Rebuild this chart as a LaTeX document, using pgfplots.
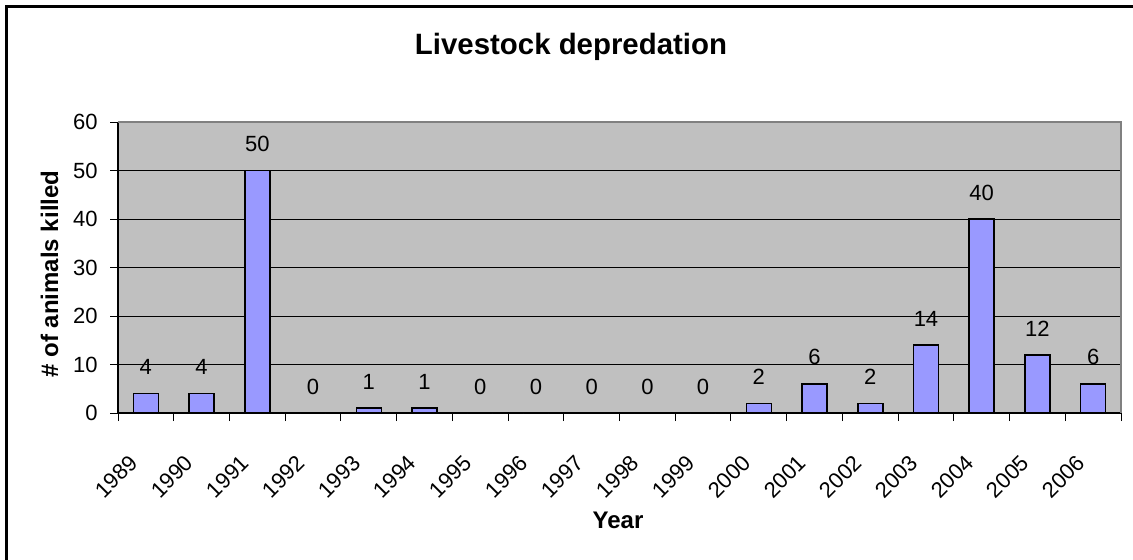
\documentclass[border=0pt]{standalone}
\usepackage{fontspec}
\setmainfont{Liberation Sans}
\usepackage{pgfplots}
\pgfplotsset{compat=1.18}
\definecolor{barblue}{HTML}{9999FF}
\definecolor{plotgray}{HTML}{C0C0C0}
\definecolor{bordergray}{HTML}{808080}
\begin{document}
\begin{tikzpicture}
\begin{axis}[
  at={(0,0)}, anchor=south west,
  scale only axis, width=501.5pt, height=145.5pt,
  xmin=-0.5, xmax=17.5, ymin=0, ymax=60,
  ytick={0,10,...,60},
  xtick={0,...,17},
  xticklabels={1989,1990,1991,1992,1993,1994,1995,1996,1997,1998,1999,2000,2001,2002,2003,2004,2005,2006},
  minor xtick={-0.5,0.5,...,17.5},
  major x tick style={draw=none},
  tick align=outside,
  major tick length=4pt, minor tick length=4pt,
  tick style={black, line width=0.5pt},
  axis x line*=bottom, axis y line*=left,
  axis line style={black, line width=0.6pt},
  axis background/.style={fill=plotgray},
  ymajorgrids, major grid style={black, line width=0.5pt},
  ticklabel style={font=\fontsize{11}{13}\selectfont},
  /pgf/number format/assume math mode=true,
  yticklabel style={anchor=east, inner sep=0pt, xshift=-6pt},
  xticklabel style={xshift=-6pt, yshift=-19pt, rotate=45, anchor=east, inner sep=0pt},
  ybar, bar width=12.5pt,
  nodes near coords,
  every node near coord/.append style={font=\fontsize{11}{13}\selectfont, anchor=south, inner sep=0pt, yshift=9pt, black},
  clip=false,
]
\draw[bordergray, line width=0.6pt] (rel axis cs:0,1) -- (rel axis cs:1,1) -- (rel axis cs:1,0);
\addplot[fill=barblue, draw=black, line width=0.75pt] coordinates {
 (0,4) (1,4) (2,50) (3,0) (4,1) (5,1) (6,0) (7,0) (8,0) (9,0) (10,0) (11,2) (12,6) (13,2) (14,14) (15,40) (16,12) (17,6)
};
\end{axis}
\node[anchor=base, font=\fontsize{14.7}{17}\selectfont\bfseries] at (226.5pt,179.5pt) {Livestock depredation};
\node[anchor=base, font=\fontsize{12}{14}\selectfont\bfseries] at (250pt,-57.5pt) {Year};
\node[rotate=90, font=\fontsize{12}{14}\selectfont\bfseries] at (-34.25pt,69.5pt) {\# of animals killed};
\draw[line width=1.5pt] (-55.75pt,203.25pt) rectangle (510pt,-77pt);
\pgfresetboundingbox
\path[use as bounding box] (-59pt,-73pt) rectangle (507.5pt,206.5pt);
\end{tikzpicture}
\end{document}
